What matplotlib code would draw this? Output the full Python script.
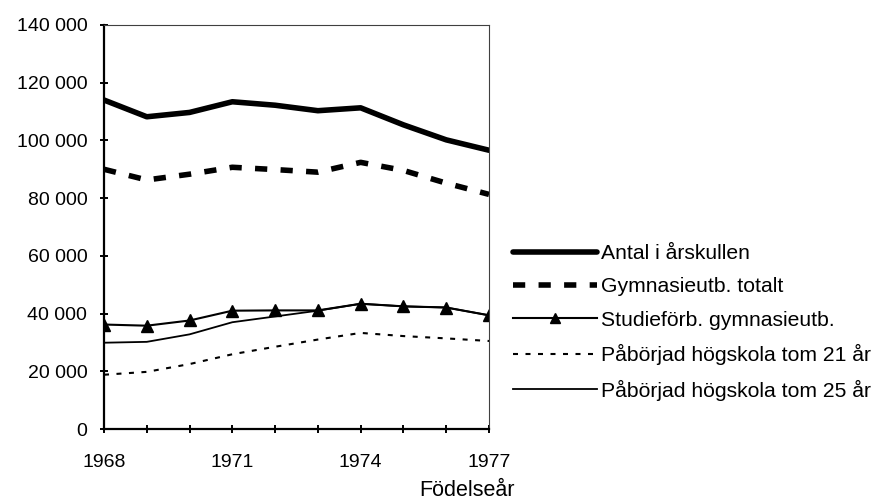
import matplotlib
matplotlib.use("Agg")
import matplotlib.pyplot as plt
from matplotlib.ticker import FuncFormatter, MultipleLocator, FixedLocator

plt.rcParams['font.family'] = ['Liberation Sans', 'DejaVu Sans']

years = [1968, 1969, 1970, 1971, 1972, 1973, 1974, 1975, 1976, 1977]
antal = [114000, 108200, 109700, 113400, 112200, 110300, 111300, 105400, 100200, 96600]
gymnasie = [90000, 86300, 88300, 90700, 89900, 89000, 92400, 89600, 85200, 81300]
studieforb = [36200, 35800, 37600, 41000, 41100, 41100, 43400, 42500, 42100, 39400]
hogskola21 = [18800, 19800, 22500, 25900, 28500, 31000, 33300, 32200, 31400, 30500]
hogskola25 = [29900, 30200, 32800, 37000, 39000, 41000, 43400, 42500, 42100, 39400]

labels = ["Antal i årskullen", "Gymnasieutb. totalt", "Studieförb. gymnasieutb.",
          "Påbörjad högskola tom 21 år", "Påbörjad högskola tom 25 år"]
xtick_labels = [1968, 1971, 1974, 1977]

W, H = 877, 500
fig = plt.figure(figsize=(W / 100, H / 100), dpi=100)
ax = fig.add_axes([104 / W, 1 - 429 / H, (489 - 104) / W, (429 - 25) / H])

l1, = ax.plot(years, antal, color='black', lw=4.0, solid_capstyle='round', solid_joinstyle='round')
l2, = ax.plot(years, gymnasie, color='black', lw=4.0, dashes=(2.2, 2.4), dash_capstyle='butt')
l3, = ax.plot(years, studieforb, color='black', lw=1.5, marker='^', markersize=9,
              markerfacecolor='black', markeredgecolor='black')
l4, = ax.plot(years, hogskola21, color='black', lw=1.5, dashes=(2.4, 3.6))
l5, = ax.plot(years, hogskola25, color='black', lw=1.3)

ax.set_xlim(1968, 1977)
ax.set_ylim(0, 140000)
ax.xaxis.set_major_locator(FixedLocator(xtick_labels))
ax.xaxis.set_minor_locator(MultipleLocator(1))
ax.yaxis.set_major_locator(MultipleLocator(20000))
ax.yaxis.set_major_formatter(FuncFormatter(lambda v, p: f"{int(v):,}".replace(",", " ")))

for side in ['left', 'bottom']:
    ax.spines[side].set_linewidth(1.6)
    ax.spines[side].set_color('black')
for side in ['top', 'right']:
    ax.spines[side].set_linewidth(0.8)
    ax.spines[side].set_color('#404040')

ax.tick_params(axis='both', which='both', direction='inout', length=6, width=1.4, labelsize=14)
ax.tick_params(axis='x', which='both', pad=15)
ax.tick_params(axis='y', pad=9)

fig.text(515 / W, 1 - 491 / H, "Födelseår", ha='right', va='center', fontsize=15.5)

leg = fig.legend([l1, l2, l3, l4, l5], labels, loc='upper left',
                 bbox_to_anchor=(513 / W, 1 - 244 / H), frameon=False, fontsize=15.2,
                 handlelength=4.0, handletextpad=0.15, labelspacing=0.68,
                 borderpad=0, borderaxespad=0, markerscale=0.75)

fig.savefig("out.png", dpi=100)
